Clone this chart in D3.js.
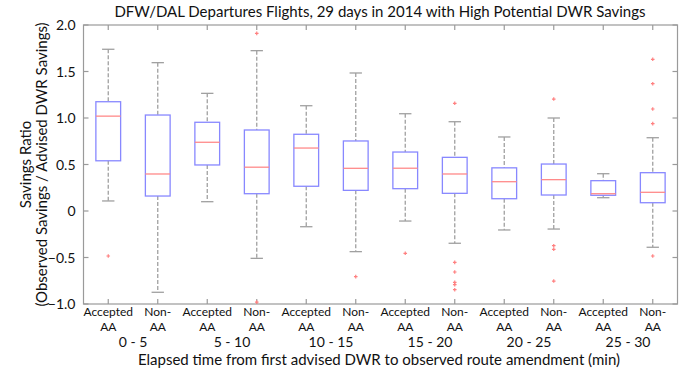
<!DOCTYPE html>
<html>
<head>
<meta charset="utf-8">
<script src="https://cdn.jsdelivr.net/npm/d3@7"></script>
<style>
  body { margin: 0; background: #fff; }
  text { font-family: Lato, "Open Sans", sans-serif; fill: #111; }
</style>
</head>
<body>
<svg id="chart" width="682" height="370"></svg>
<script>
// box order: Accepted AA / Non-AA for each time bin
const boxLabels = ["Accepted|AA", "Non-|AA", "Accepted|AA", "Non-|AA", "Accepted|AA", "Non-|AA",
                   "Accepted|AA", "Non-|AA", "Accepted|AA", "Non-|AA", "Accepted|AA", "Non-|AA"];
const timeBins = ["0 - 5", "5 - 10", "10 - 15", "15 - 20", "20 - 25", "25 - 30"];

const whiskerHigh = [1.739, 1.595, 1.265, 1.724, 1.132, 1.484, 1.046, 0.96, 0.796, 1.0, 0.401, 0.788];
const q3 =          [1.175, 1.032, 0.954, 0.871, 0.825, 0.753, 0.634, 0.577, 0.464, 0.505, 0.326, 0.412];
const medians =     [1.02, 0.398, 0.739, 0.471, 0.677, 0.459, 0.46, 0.398, 0.315, 0.337, 0.186, 0.201];
const q1 =          [0.54, 0.161, 0.495, 0.186, 0.266, 0.222, 0.24, 0.19, 0.132, 0.172, 0.169, 0.089];
const whiskerLow =  [0.108, -0.874, 0.10, -0.509, -0.169, -0.437, -0.108, -0.347, -0.204, -0.194, 0.143, -0.39];
const outliers = [
  [-0.484],
  [],
  [],
  [1.91, -0.98],
  [],
  [-0.706],
  [-0.455],
  [1.158, -0.552, -0.656, -0.767, -0.792, -0.846],
  [],
  [1.204, -0.373, -0.412, -0.753],
  [],
  [1.631, 1.369, 1.097, 0.939, -0.484]
];
const yTicks = [-1, -0.5, 0, 0.5, 1, 1.5, 2];

const boxes = boxLabels.map((lab, i) => ({
  pos: i + 1, label: lab,
  hi: whiskerHigh[i], q3: q3[i], med: medians[i], q1: q1[i], lo: whiskerLow[i],
  out: outliers[i]
}));

const svg = d3.select("#chart");
const m = { left: 83.5, right: 677.5, top: 25, bottom: 304 };

const x = d3.scaleLinear().domain([0.5, 12.5]).range([m.left, m.right]);
const y = d3.scaleLinear().domain([-1, 2]).range([m.bottom, m.top]);

const axisColor = "#9a9a9a";
const boxW = (x(2) - x(1)) * 0.5;
const capW = boxW * 0.5;

// frame
svg.append("rect")
  .attr("x", m.left).attr("y", m.top)
  .attr("width", m.right - m.left).attr("height", m.bottom - m.top)
  .attr("fill", "none").attr("stroke", axisColor).attr("stroke-width", 1.2);

// ticks (inward, on all four sides)
const tl = 5;
const g = svg.append("g").attr("stroke", axisColor).attr("stroke-width", 1.2);
boxes.forEach(d => {
  g.append("line").attr("x1", x(d.pos)).attr("x2", x(d.pos)).attr("y1", m.bottom).attr("y2", m.bottom - tl);
  g.append("line").attr("x1", x(d.pos)).attr("x2", x(d.pos)).attr("y1", m.top).attr("y2", m.top + tl);
});
yTicks.forEach(v => {
  g.append("line").attr("x1", m.left).attr("x2", m.left + tl).attr("y1", y(v)).attr("y2", y(v));
  g.append("line").attr("x1", m.right).attr("x2", m.right - tl).attr("y1", y(v)).attr("y2", y(v));
});

// y tick labels
svg.append("g").selectAll("text")
  .data(yTicks).enter().append("text")
  .attr("x", m.left - 8)
  .attr("y", v => y(v))
  .attr("dy", "0.36em")
  .attr("text-anchor", "end")
  .attr("font-size", 14)
  .text(v => v === 0 ? "0" : d3.format(".1f")(v));

// whiskers
const wg = svg.append("g").attr("stroke", "#a0a0a0").attr("stroke-width", 1.3);
boxes.forEach(d => {
  wg.append("line").attr("x1", x(d.pos)).attr("x2", x(d.pos))
    .attr("y1", y(d.hi)).attr("y2", y(d.q3)).attr("stroke-dasharray", "4,2");
  wg.append("line").attr("x1", x(d.pos)).attr("x2", x(d.pos))
    .attr("y1", y(d.q1)).attr("y2", y(d.lo)).attr("stroke-dasharray", "4,2");
  wg.append("line").attr("x1", x(d.pos) - capW / 2).attr("x2", x(d.pos) + capW / 2)
    .attr("y1", y(d.hi)).attr("y2", y(d.hi));
  wg.append("line").attr("x1", x(d.pos) - capW / 2).attr("x2", x(d.pos) + capW / 2)
    .attr("y1", y(d.lo)).attr("y2", y(d.lo));
});

// boxes
svg.append("g").selectAll("rect")
  .data(boxes).enter().append("rect")
  .attr("x", d => x(d.pos) - boxW / 2)
  .attr("y", d => y(d.q3))
  .attr("width", boxW)
  .attr("height", d => y(d.q1) - y(d.q3))
  .attr("fill", "none")
  .attr("stroke", "#8888ff")
  .attr("stroke-width", 1.3);

// medians
svg.append("g").selectAll("line")
  .data(boxes).enter().append("line")
  .attr("x1", d => x(d.pos) - boxW / 2)
  .attr("x2", d => x(d.pos) + boxW / 2)
  .attr("y1", d => y(d.med))
  .attr("y2", d => y(d.med))
  .attr("stroke", "#ff8a8a")
  .attr("stroke-width", 1.3);

// outliers
const og = svg.append("g").attr("stroke", "#ff8080").attr("stroke-width", 1.2);
boxes.forEach(d => {
  d.out.forEach(v => {
    og.append("path")
      .attr("d", `M${x(d.pos) - 1.8},${y(v)}h3.6M${x(d.pos)},${y(v) - 1.8}v3.6`);
  });
});

// x tick labels
const xl = svg.append("g").attr("font-size", 12).attr("text-anchor", "middle");
boxes.forEach(d => {
  const parts = d.label.split("|");
  xl.append("text").attr("x", x(d.pos)).attr("y", 316).text(parts[0]);
  xl.append("text").attr("x", x(d.pos)).attr("y", 331).text(parts[1]);
});

// time bin labels
svg.append("g").selectAll("text")
  .data(timeBins).enter().append("text")
  .attr("x", (d, i) => (x(2 * i + 1) + x(2 * i + 2)) / 2)
  .attr("y", 347)
  .attr("text-anchor", "middle")
  .attr("font-size", 14)
  .text(d => d);

// x axis title
svg.append("text")
  .attr("x", 379)
  .attr("y", 365)
  .attr("text-anchor", "middle")
  .attr("font-size", 15)
  .text("Elapsed time from first advised DWR to observed route amendment (min)");

// y axis title
const yt = svg.append("text")
  .attr("transform", `translate(0,${(m.top + m.bottom) / 2}) rotate(-90)`)
  .attr("text-anchor", "middle")
  .attr("font-size", 15);
yt.append("tspan").attr("x", 0).attr("y", 31).text("Savings Ratio");
yt.append("tspan").attr("x", 0).attr("y", 47).text("(Observed Savings / Advised DWR Savings)");

// title
svg.append("text")
  .attr("x", 380)
  .attr("y", 17)
  .attr("text-anchor", "middle")
  .attr("font-size", 15)
  .text("DFW/DAL Departures Flights, 29 days in 2014 with High Potential DWR Savings");
</script>
</body>
</html>
